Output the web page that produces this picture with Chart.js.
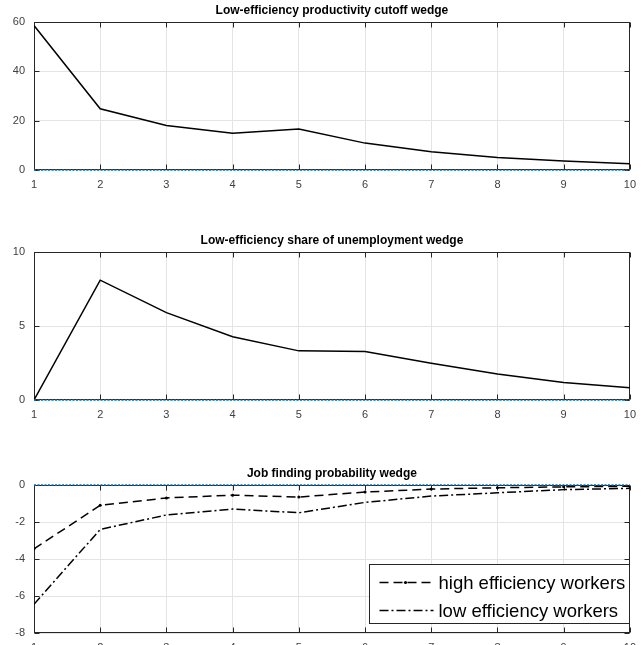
<!DOCTYPE html>
<html>
<head>
<meta charset="utf-8">
<script src="https://cdn.jsdelivr.net/npm/chart.js@4.4.1/dist/chart.umd.min.js"></script>
<style>
  html, body { margin: 0; padding: 0; background: #fff; overflow: hidden; }
  #page { position: relative; width: 644px; height: 645px; overflow: hidden; }
  .panel { position: absolute; left: 0; width: 644px; height: 200px; }
</style>
</head>
<body>
<div id="page">
  <div class="panel" style="top:0px"><canvas id="c1" width="644" height="200"></canvas></div>
  <div class="panel" style="top:230px"><canvas id="c2" width="644" height="200"></canvas></div>
  <div class="panel" style="top:463px"><canvas id="c3" width="644" height="200"></canvas></div>
</div>
<script>
// ========== DATA ==========
const periods = [1, 2, 3, 4, 5, 6, 7, 8, 9, 10];
const cutoffWedge = [58.6, 24.8, 18.0, 14.9, 16.6, 10.9, 7.4, 5.1, 3.6, 2.5];
const unempShareWedge = [0, 8.1, 5.9, 4.28, 3.32, 3.27, 2.49, 1.75, 1.19, 0.83];
const highEffWorkers = [-3.45, -1.1, -0.7, -0.55, -0.65, -0.38, -0.22, -0.15, -0.1, -0.07];
const lowEffWorkers = [-6.45, -2.4, -1.62, -1.3, -1.5, -0.94, -0.6, -0.42, -0.25, -0.18];
const zeroLine = [0, 0, 0, 0, 0, 0, 0, 0, 0, 0];

const titles = [
    'Low-efficiency productivity cutoff wedge',
    'Low-efficiency share of unemployment wedge',
    'Job finding probability wedge'
];

const FONT = "'Liberation Sans', Arial, Helvetica, sans-serif";
const AXIS_COLOR = '#262626';
const GRID_COLOR = '#e4e4e4';
const MATLAB_BLUE = '#0072BD';

const toPoints = (arr) => arr.map((v, i) => ({ x: periods[i], y: v }));

// axes box + inward ticks (under the lines), then title and optional legend on top
const framePlugin = {
    id: 'frame',
    beforeDatasetsDraw(chart) {
        const { ctx, chartArea: a, scales } = chart;
        ctx.save();
        ctx.strokeStyle = AXIS_COLOR;
        ctx.lineWidth = 1;
        const L = Math.round(a.left) + 0.5, R = Math.round(a.right) - 0.5;
        const T = Math.round(a.top) + 0.5, B = Math.round(a.bottom) - 0.5;
        ctx.strokeRect(L, T, R - L, B - T);
        ctx.beginPath();
        scales.x.ticks.forEach(t => {
            const px = Math.round(scales.x.getPixelForValue(t.value)) + 0.5;
            ctx.moveTo(px, T); ctx.lineTo(px, T + 5);
            ctx.moveTo(px, B); ctx.lineTo(px, B - 5);
        });
        scales.y.ticks.forEach(t => {
            const py = Math.round(scales.y.getPixelForValue(t.value)) + 0.5;
            ctx.moveTo(L, py); ctx.lineTo(L + 5, py);
            ctx.moveTo(R, py); ctx.lineTo(R - 5, py);
        });
        ctx.stroke();
        ctx.restore();
    },
    afterDraw(chart, args, opts) {
        const { ctx, chartArea: a } = chart;
        ctx.save();
        // title
        ctx.fillStyle = '#000';
        ctx.font = `bold 12px ${FONT}`;
        ctx.textAlign = 'center';
        ctx.textBaseline = 'middle';
        ctx.fillText(opts.title, (a.left + a.right) / 2, a.top - 11);

        // legend
        if (opts.legend) {
            const w = 260, h = 59;
            const x0 = Math.round(a.right) - w - 0.5, y0 = Math.round(a.bottom) - 10 - h + 0.5;
            ctx.fillStyle = '#fff';
            ctx.fillRect(x0, y0, w, h);
            ctx.strokeStyle = AXIS_COLOR;
            ctx.lineWidth = 1;
            ctx.strokeRect(x0, y0, w, h);
            const items = chart.data.datasets.filter(d => d.inLegend);
            items.forEach((d, i) => {
                const cy = y0 + 18 + i * 28;
                ctx.strokeStyle = d.borderColor;
                ctx.lineWidth = 1.3;
                ctx.setLineDash(d.borderDash || []);
                ctx.beginPath();
                ctx.moveTo(x0 + 10, cy); ctx.lineTo(x0 + 64, cy);
                ctx.stroke();
                ctx.setLineDash([]);
                if (d.pointRadius > 0) {
                    ctx.fillStyle = d.borderColor;
                    ctx.beginPath();
                    ctx.arc(x0 + 36, cy, 1.6, 0, Math.PI * 2);
                    ctx.fill();
                }
                ctx.fillStyle = '#000';
                ctx.font = `18.5px ${FONT}`;
                ctx.textAlign = 'left';
                ctx.textBaseline = 'middle';
                ctx.fillText(d.label, x0 + 69, cy + 1);
            });
        }
        ctx.restore();
    }
};

function makeOptions(yMin, yMax, step, title, legend) {
    return {
        responsive: false,
        animation: false,
        layout: { padding: { top: 22, right: 11, left: 0, bottom: 0 } },
        plugins: {
            legend: { display: false },
            tooltip: { enabled: false },
            frame: { title: title, legend: legend }
        },
        scales: {
            x: {
                type: 'linear',
                min: 1, max: 10,
                afterFit: (s) => { s.height = 30; },
                ticks: { stepSize: 1, color: '#404040', padding: 8, font: { family: FONT, size: 11 } },
                grid: { color: GRID_COLOR, drawTicks: false },
                border: { display: false }
            },
            y: {
                min: yMin, max: yMax,
                afterFit: (s) => { s.width = 34; },
                ticks: { stepSize: step, color: '#404040', padding: 9, font: { family: FONT, size: 11 } },
                grid: { color: GRID_COLOR, drawTicks: false },
                border: { display: false }
            }
        }
    };
}

const blackLine = (label, values, extra) => Object.assign({
    label: label,
    data: toPoints(values),
    borderColor: '#000',
    borderWidth: 1.5,
    pointRadius: 0,
    fill: false,
    tension: 0
}, extra || {});

// dotted zero reference line, drawn on top of the axis line
const zeroDataset = () => ({
    label: 'zero',
    data: toPoints(zeroLine),
    borderColor: MATLAB_BLUE,
    borderWidth: 1.5,
    borderDash: [2, 1.5],
    pointRadius: 0,
    fill: false,
    clip: false,
    order: -1
});

new Chart(document.getElementById('c1'), {
    type: 'line',
    data: { datasets: [blackLine('cutoff', cutoffWedge), zeroDataset()] },
    options: makeOptions(0, 60, 20, titles[0], false),
    plugins: [framePlugin]
});

new Chart(document.getElementById('c2'), {
    type: 'line',
    data: { datasets: [blackLine('share', unempShareWedge), zeroDataset()] },
    options: makeOptions(0, 10, 5, titles[1], false),
    plugins: [framePlugin]
});

new Chart(document.getElementById('c3'), {
    type: 'line',
    data: {
        datasets: [
            blackLine('high efficiency workers', highEffWorkers, {
                borderDash: [9, 5], pointRadius: 1.5, pointBackgroundColor: '#000',
                pointBorderWidth: 0, inLegend: true
            }),
            blackLine('low efficiency workers', lowEffWorkers, {
                borderDash: [9, 3, 2, 3], inLegend: true
            }),
            zeroDataset()
        ]
    },
    options: makeOptions(-8, 0, 2, titles[2], true),
    plugins: [framePlugin]
});
</script>
</body>
</html>
